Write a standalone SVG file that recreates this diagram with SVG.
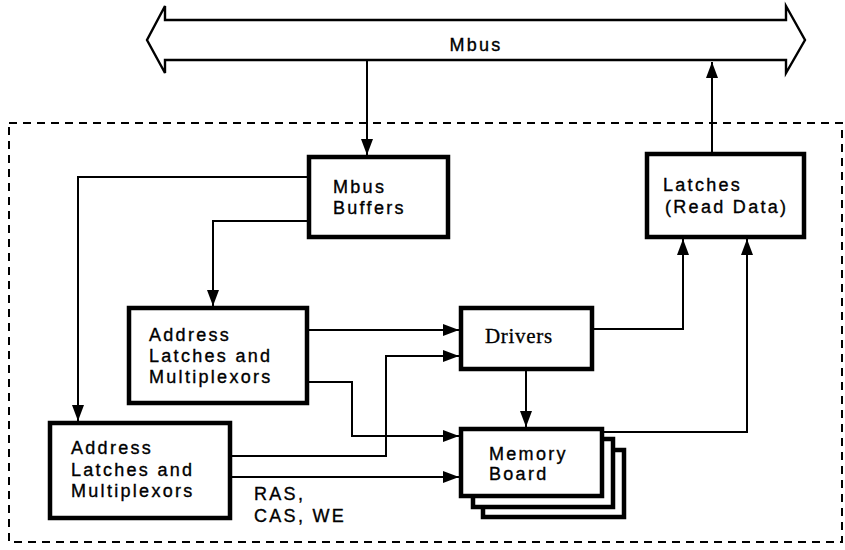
<svg xmlns="http://www.w3.org/2000/svg" width="845" height="550" viewBox="0 0 845 550">
<style>
.box{fill:#fff;stroke:#000;stroke-width:4.5}
.t{font-family:"Liberation Sans",Arial,sans-serif;font-size:18px;letter-spacing:2.3px;fill:#000;stroke:#000;stroke-width:0.35}
.s{font-family:"Liberation Serif","Times New Roman",serif;font-size:21px;letter-spacing:0.7px;fill:#000;stroke:#000;stroke-width:0.3}
.c{fill:none;stroke:#000;stroke-width:2}
</style>
<defs>
<marker id="ah" markerUnits="userSpaceOnUse" markerWidth="16" markerHeight="12" refX="16" refY="6" orient="auto">
<path d="M0,0 L16,6 L0,12 z" fill="#000"/>
</marker>
</defs>
<rect width="845" height="550" fill="#fff"/>
<rect id="boundary" x="9" y="123" width="833" height="419" fill="none" stroke="#000" stroke-width="2" stroke-dasharray="8 6"/>
<g id="mbus">
<polygon points="165,20 165,6 147,40 165,73 165,60 786,60 786,73 805,40 786,6 786,20" fill="#fff" stroke="#000" stroke-width="2.4" stroke-linejoin="miter"/>
<text class="t" x="476" y="51" text-anchor="middle">Mbus</text>
</g>
<g id="connectors">
<path class="c" d="M367,61 V155" marker-end="url(#ah)"/>
<path class="c" d="M712,152 V62" marker-end="url(#ah)"/>
<path class="c" d="M307,177 H78 V421" marker-end="url(#ah)"/>
<path class="c" d="M307,221 H213 V306" marker-end="url(#ah)"/>
<path class="c" d="M309,330 H459" marker-end="url(#ah)"/>
<path class="c" d="M309,382 H352 V436 H459" marker-end="url(#ah)"/>
<path class="c" d="M232,456 H386 V356 H459" marker-end="url(#ah)"/>
<path class="c" d="M232,477 H459" marker-end="url(#ah)"/>
<path class="c" d="M526,371 V427" marker-end="url(#ah)"/>
<path class="c" d="M594,329 H683 V239" marker-end="url(#ah)"/>
<path class="c" d="M604,432 H747 V239" marker-end="url(#ah)"/>
</g>
<g id="mbus-buffers">
<rect class="box" x="309" y="157" width="139" height="80"/>
<text class="t" x="333" y="193">Mbus</text>
<text class="t" x="333" y="214">Buffers</text>
</g>
<g id="latches">
<rect class="box" x="647" y="154" width="157" height="83"/>
<text class="t" x="663" y="191">Latches</text>
<text class="t" x="665" y="213">(Read Data)</text>
</g>
<g id="addr1">
<rect class="box" x="129" y="308" width="178" height="95"/>
<text class="t" x="149" y="341">Address</text>
<text class="t" x="149" y="362">Latches and</text>
<text class="t" x="149" y="383">Multiplexors</text>
</g>
<g id="addr2">
<rect class="box" x="50" y="423" width="180" height="95"/>
<text class="t" x="71" y="454">Address</text>
<text class="t" x="71" y="476">Latches and</text>
<text class="t" x="71" y="497">Multiplexors</text>
</g>
<g id="drivers">
<rect class="box" x="461" y="308" width="131" height="61"/>
<text class="s" x="485" y="343">Drivers</text>
</g>
<g id="memory">
<rect class="box" x="483" y="450" width="141" height="67"/>
<rect class="box" x="473" y="439" width="140" height="68"/>
<rect class="box" x="461" y="429" width="141" height="67"/>
<text class="t" x="489" y="460">Memory</text>
<text class="t" x="489" y="480">Board</text>
</g>
<g id="ras-label">
<text class="t" x="254" y="500">RAS,</text>
<text class="t" x="254" y="522">CAS, WE</text>
</g>
</svg>
